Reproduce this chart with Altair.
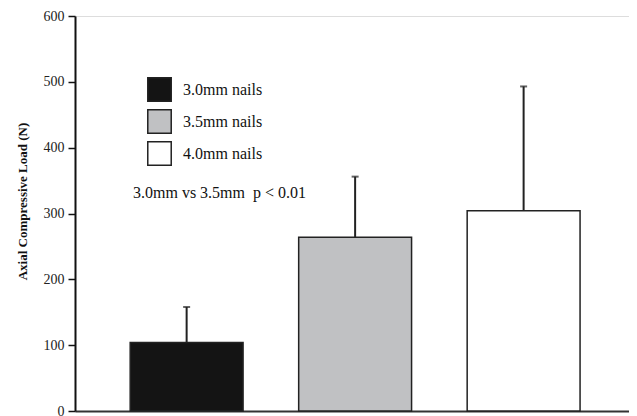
import altair as alt
import pandas as pd

groups = ["3.0mm nails", "3.5mm nails", "4.0mm nails"]
means = [104, 264, 304]
upper = [158, 356, 493]
fills = ["#141414", "#c0c1c3", "#ffffff"]
y_ticks = [0, 100, 200, 300, 400, 500, 600]
note = "3.0mm vs 3.5mm\u00a0\u00a0p < 0.01"
note_y = 331

df = pd.DataFrame({"group": groups, "mean": means, "upper": upper})

serif = "Liberation Serif"

x = alt.X("group:N", sort=groups,
          scale=alt.Scale(paddingInner=0.33, paddingOuter=0.309, align=0.53),
          axis=alt.Axis(title=None, labels=False, ticks=False,
                        domainColor="#333333", domainWidth=2))
yscale = alt.Scale(domain=[0, 600], nice=False)

bars = alt.Chart(df).mark_bar(stroke="#222222", strokeWidth=1.5).encode(
    x=x,
    y=alt.Y("mean:Q", scale=yscale,
            axis=alt.Axis(title="Axial Compressive Load (N)", values=y_ticks,
                          grid=False, domainColor="#111111", domainWidth=2,
                          tickColor="#111111", tickWidth=1.5, tickSize=7,
                          labelFont=serif, labelFontSize=14, labelColor="#222222",
                          labelPadding=4, titleFont=serif, titleFontSize=13,
                          titleFontWeight="bold", titleColor="#111111",
                          titlePadding=14, titleY=185)),
    color=alt.Color("group:N", sort=groups,
                    scale=alt.Scale(domain=groups, range=fills),
                    legend=alt.Legend(title=None, orient="none", legendX=72, legendY=61,
                                      symbolType="square", symbolSize=550,
                                      symbolStrokeColor="#222222", symbolStrokeWidth=1.5,
                                      symbolOpacity=1,
                                      labelFont=serif, labelFontSize=16,
                                      labelColor="#111111", labelOffset=11,
                                      rowPadding=1, padding=0)),
)

err = alt.Chart(df).mark_rule(color="#222222", strokeWidth=2).encode(
    x=alt.X("group:N", sort=groups),
    y=alt.Y("mean:Q", scale=yscale),
    y2="upper:Q",
)

caps = alt.Chart(df).mark_tick(color="#222222", thickness=2, size=7).encode(
    x=alt.X("group:N", sort=groups),
    y=alt.Y("upper:Q", scale=yscale),
)

text = alt.Chart(pd.DataFrame({"t": [note], "v": [note_y]})).mark_text(
    align="left", baseline="middle", font=serif, fontSize=16, color="#111111"
).encode(x=alt.value(58), y=alt.Y("v:Q", scale=yscale), text="t:N")

chart = alt.layer(bars, err, caps, text).properties(
    width=554, height=395,
    autosize=alt.AutoSizeParams(type="none"),
    padding={"left": 67, "top": 8, "right": 0, "bottom": 6},
).configure_view(stroke=None).configure(background="white")

chart.save("out.html", embed_options={"renderer": "svg", "actions": False})
